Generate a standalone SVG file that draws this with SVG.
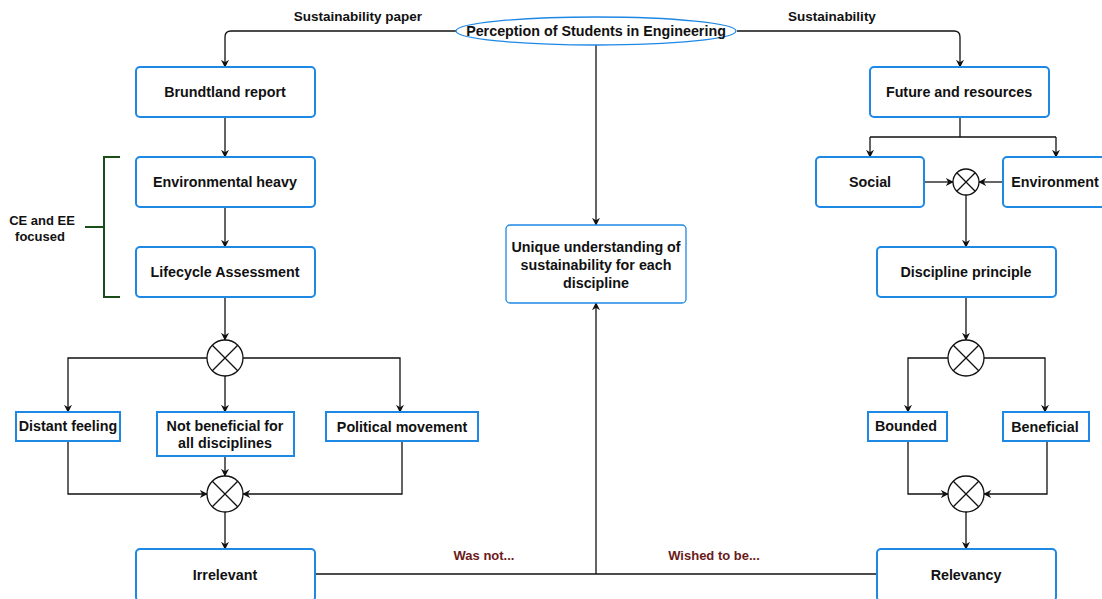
<svg xmlns="http://www.w3.org/2000/svg" width="1102" height="599" viewBox="0 0 1102 599">
<defs>
<marker id="ah" viewBox="0 0 10 10" refX="9" refY="5" markerWidth="8" markerHeight="8" markerUnits="userSpaceOnUse" orient="auto">
<path d="M0,0 L10,5 L0,10 L3,5 Z" fill="#111"/>
</marker>
<style>
.n{fill:#fff;stroke:#1e88e5;stroke-width:2}
.thin{stroke-width:1.3}
.t{font-family:"Liberation Sans",Arial,sans-serif;font-weight:bold;font-size:14.3px;fill:#111;text-anchor:middle;dominant-baseline:central}
.e{font-family:"Liberation Sans",Arial,sans-serif;font-weight:bold;font-size:13.5px;fill:#111;text-anchor:middle}
.r{fill:#6b1a1a;font-size:13px}
.b{font-size:13px}
.c{fill:none;stroke:#111;stroke-width:1.3}
.a{marker-end:url(#ah)}
.x{fill:#fff;stroke:#111;stroke-width:1.3}
</style>
</defs>
<rect width="1102" height="599" fill="#fff"/>
<g id="connectors">
<path class="c a" d="M456,31 H231 Q225,31 225,37 V67"/>
<path class="c a" d="M737,31 H954 Q960,31 960,37 V67"/>
<path class="c a" d="M596,45 V225"/>
<path class="c a" d="M225,117 V157"/>
<path class="c a" d="M225,207 V247"/>
<path class="c a" d="M225,297 V340"/>
<path class="c a" d="M207,358 H68 V412"/>
<path class="c a" d="M225,376 V412"/>
<path class="c a" d="M243,358 H400 V412"/>
<path class="c a" d="M68,441 V494 H207"/>
<path class="c a" d="M225,456 V476"/>
<path class="c a" d="M402,441 V494 H243"/>
<path class="c a" d="M225,512 V549"/>
<path class="c" d="M315,574 H877"/>
<path class="c a" d="M596,574 V303"/>
<path class="c" d="M960,117 V137 M870,137 H1056"/>
<path class="c a" d="M870,137 V157"/>
<path class="c a" d="M1056,137 V157"/>
<path class="c a" d="M924,182 H953"/>
<path class="c a" d="M1003,182 H979"/>
<path class="c a" d="M966,195 V247"/>
<path class="c a" d="M966,297 V340"/>
<path class="c a" d="M948,358 H908 V412"/>
<path class="c a" d="M984,358 H1045 V412"/>
<path class="c a" d="M908,441 V494 H948"/>
<path class="c a" d="M1047,441 V494 H984"/>
<path class="c a" d="M966,512 V549"/>
<text class="e" x="358" y="21">Sustainability paper</text>
<text class="e" x="832" y="21">Sustainability</text>
<text class="e r" x="484" y="560">Was not...</text>
<text class="e r" x="714" y="560">Wished to be...</text>
</g>
<g id="bracket">
<path d="M120,157 H104 V297 H120 M104,227 H85" fill="none" stroke="#1b4d1b" stroke-width="2"/>
<text class="e b" x="42" y="225">CE and EE</text>
<text class="e b" x="40" y="241">focused</text>
</g>
<g id="perception"><ellipse class="n thin" cx="596" cy="31" rx="140" ry="14"/><text class="t" x="596" y="31">Perception of Students in Engineering</text></g>
<g id="brundtland"><rect class="n" x="136" y="67" width="179" height="50" rx="4"/><text class="t" x="225" y="92">Brundtland report</text></g>
<g id="envheavy"><rect class="n" x="136" y="157" width="179" height="50" rx="4"/><text class="t" x="225" y="182">Environmental heavy</text></g>
<g id="lifecycle"><rect class="n" x="136" y="247" width="179" height="50" rx="4"/><text class="t" x="225" y="272">Lifecycle Assessment</text></g>
<g id="x1"><circle class="x" cx="225" cy="358" r="18"/><path class="c" d="M212.3,345.3 L237.7,370.7 M237.7,345.3 L212.3,370.7"/></g>
<g id="distant"><rect class="n" x="16" y="412" width="104" height="29"/><text class="t" x="68" y="426">Distant feeling</text></g>
<g id="notbeneficial"><rect class="n" x="157" y="412" width="137" height="44"/><text class="t" x="225" y="426">Not beneficial for</text><text class="t" x="225" y="443">all disciplines</text></g>
<g id="political"><rect class="n" x="326" y="412" width="152" height="29"/><text class="t" x="402" y="427">Political movement</text></g>
<g id="x2"><circle class="x" cx="225" cy="494" r="18"/><path class="c" d="M212.3,481.3 L237.7,506.7 M237.7,481.3 L212.3,506.7"/></g>
<g id="irrelevant"><rect class="n" x="136" y="549" width="179" height="52" rx="4"/><text class="t" x="225" y="575">Irrelevant</text></g>
<g id="unique"><rect class="n thin" x="506" y="225" width="180" height="78" rx="4"/><text class="t" x="596" y="247">Unique understanding of</text><text class="t" x="596" y="265">sustainability for each</text><text class="t" x="596" y="283">discipline</text></g>
<g id="future"><rect class="n" x="870" y="67" width="179" height="50" rx="4"/><text class="t" x="959" y="92">Future and resources</text></g>
<g id="social"><rect class="n" x="816" y="157" width="108" height="50" rx="4"/><text class="t" x="870" y="182">Social</text></g>
<g id="environment"><rect class="n" x="1003" y="157" width="110" height="50" rx="4"/><text class="t" x="1055" y="182">Environment</text></g>
<g id="xs"><circle class="x" cx="966" cy="182" r="13"/><path class="c" d="M956.8,172.8 L975.2,191.2 M975.2,172.8 L956.8,191.2"/></g>
<g id="discipline"><rect class="n" x="877" y="247" width="179" height="50" rx="4"/><text class="t" x="966" y="272">Discipline principle</text></g>
<g id="x3"><circle class="x" cx="966" cy="358" r="18"/><path class="c" d="M953.3,345.3 L978.7,370.7 M978.7,345.3 L953.3,370.7"/></g>
<g id="bounded"><rect class="n" x="868" y="412" width="79" height="29"/><text class="t" x="906" y="426">Bounded</text></g>
<g id="beneficial"><rect class="n" x="1003" y="412" width="86" height="29"/><text class="t" x="1045" y="427">Beneficial</text></g>
<g id="x4"><circle class="x" cx="966" cy="494" r="18"/><path class="c" d="M953.3,481.3 L978.7,506.7 M978.7,481.3 L953.3,506.7"/></g>
<g id="relevancy"><rect class="n" x="877" y="549" width="179" height="52" rx="4"/><text class="t" x="966" y="575">Relevancy</text></g>
</svg>
